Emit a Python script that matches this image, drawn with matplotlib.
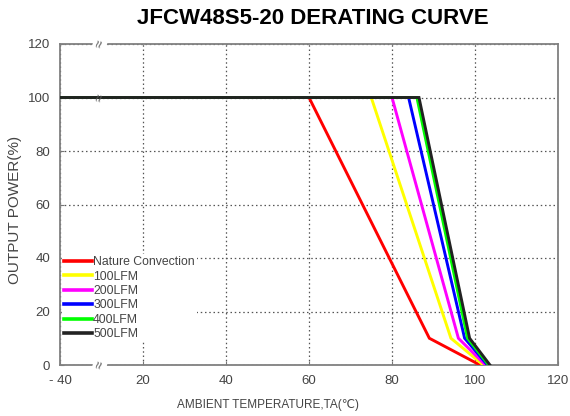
import numpy as np
import matplotlib
matplotlib.use("Agg")
import matplotlib.pyplot as plt

plt.rcParams['font.family'] = ['Liberation Sans', 'DejaVu Sans']

title = "JFCW48S5-20 DERATING CURVE"
series_names = ["Nature Convection", "100LFM", "200LFM", "300LFM", "400LFM", "500LFM"]
series_colors = ["#ff0000", "#ffff00", "#ff00ff", "#0000ff", "#00ff00", "#222222"]
temps_nature = [-40, 60, 89, 101.2]
temps_100 = [-40, 75, 94.2, 102]
temps_200 = [-40, 80, 96, 102.5]
temps_300 = [-40, 84, 97.5, 103]
temps_400 = [-40, 86, 98.2, 103.3]
temps_500 = [-40, 86.5, 98.7, 103.6]
power = [100, 100, 10, 0]
x_ticks = [-40, 20, 40, 60, 80, 100, 120]
x_tick_labels = ["- 40", "20", "40", "60", "80", "100", "120"]
y_ticks = [0, 20, 40, 60, 80, 100, 120]

all_temps = [temps_nature, temps_100, temps_200, temps_300, temps_400, temps_500]


def fwd(t):
    t = np.asarray(t, dtype=float)
    return np.where(t < 20, (t + 40) / 3.0, t)


def inv(p):
    p = np.asarray(p, dtype=float)
    return np.where(p < 20, 3.0 * p - 40, p)


fig = plt.figure(figsize=(5.7, 4.16), dpi=100)
ax = fig.add_axes([60 / 570, 1 - 365 / 416, 498 / 570, 321 / 416])
ax.set_xscale('function', functions=(fwd, inv))

for name, col, temps in zip(series_names, series_colors, all_temps):
    ax.plot(temps, power, color=col, lw=2.1, label=name, solid_joinstyle='miter', zorder=3)

ax.set_xlim(-40, 120)
ax.set_ylim(0, 120)
ax.set_xticks(x_ticks)
ax.set_xticklabels(x_tick_labels)
ax.set_yticks(y_ticks)
ax.xaxis.set_minor_locator(matplotlib.ticker.NullLocator())

ax.grid(True, linestyle=(0, (1.2, 2.2)), color='#555555', lw=0.9)
ax.tick_params(direction='in', length=3, width=0.8, colors='#777777', labelcolor='#444444',
               labelsize=9.5, pad=7)
for s in ax.spines.values():
    s.set_color('#808080')
    s.set_linewidth(1.3)

leg = ax.legend(loc='upper left', bbox_to_anchor=(0.004, 0.345), frameon=True, fontsize=8.8,
                handlelength=2.3, handletextpad=0.1, labelspacing=0.2, borderpad=0.15,
                borderaxespad=0.0, fancybox=False)
leg.get_frame().set_facecolor('white')
leg.get_frame().set_edgecolor('none')
leg.get_frame().set_alpha(1.0)
for t in leg.get_texts():
    t.set_color('#444444')
for l in leg.get_lines():
    l.set_linewidth(2.6)

# axis break marks
for yf, pad in [(0.0, 0.0), (100 / 120, None), (1.0, 0.0)]:
    kw = {}
    if pad is not None:
        kw['bbox'] = dict(boxstyle='square,pad=0.0', fc='white', ec='none')
    ax.text(0.08, yf, "\u2248", transform=ax.transAxes, rotation=75, ha='center', va='center',
            fontsize=10, color='#555555', zorder=5, clip_on=False, **kw)

fig.text(313 / 570, 1 - 18 / 416, title, ha='center', va='center', fontsize=16,
         fontweight='bold', color='black')
fig.text(268 / 570, 1 - 405 / 416, "AMBIENT TEMPERATURE,TA(\u2103)", ha='center', va='center',
         fontsize=8.5, color='#444444')
fig.text(15 / 570, 1 - 210 / 416, "OUTPUT POWER(%)", ha='center', va='center', rotation=90,
         fontsize=11, color='#444444')

fig.savefig("out.png", dpi=100)
